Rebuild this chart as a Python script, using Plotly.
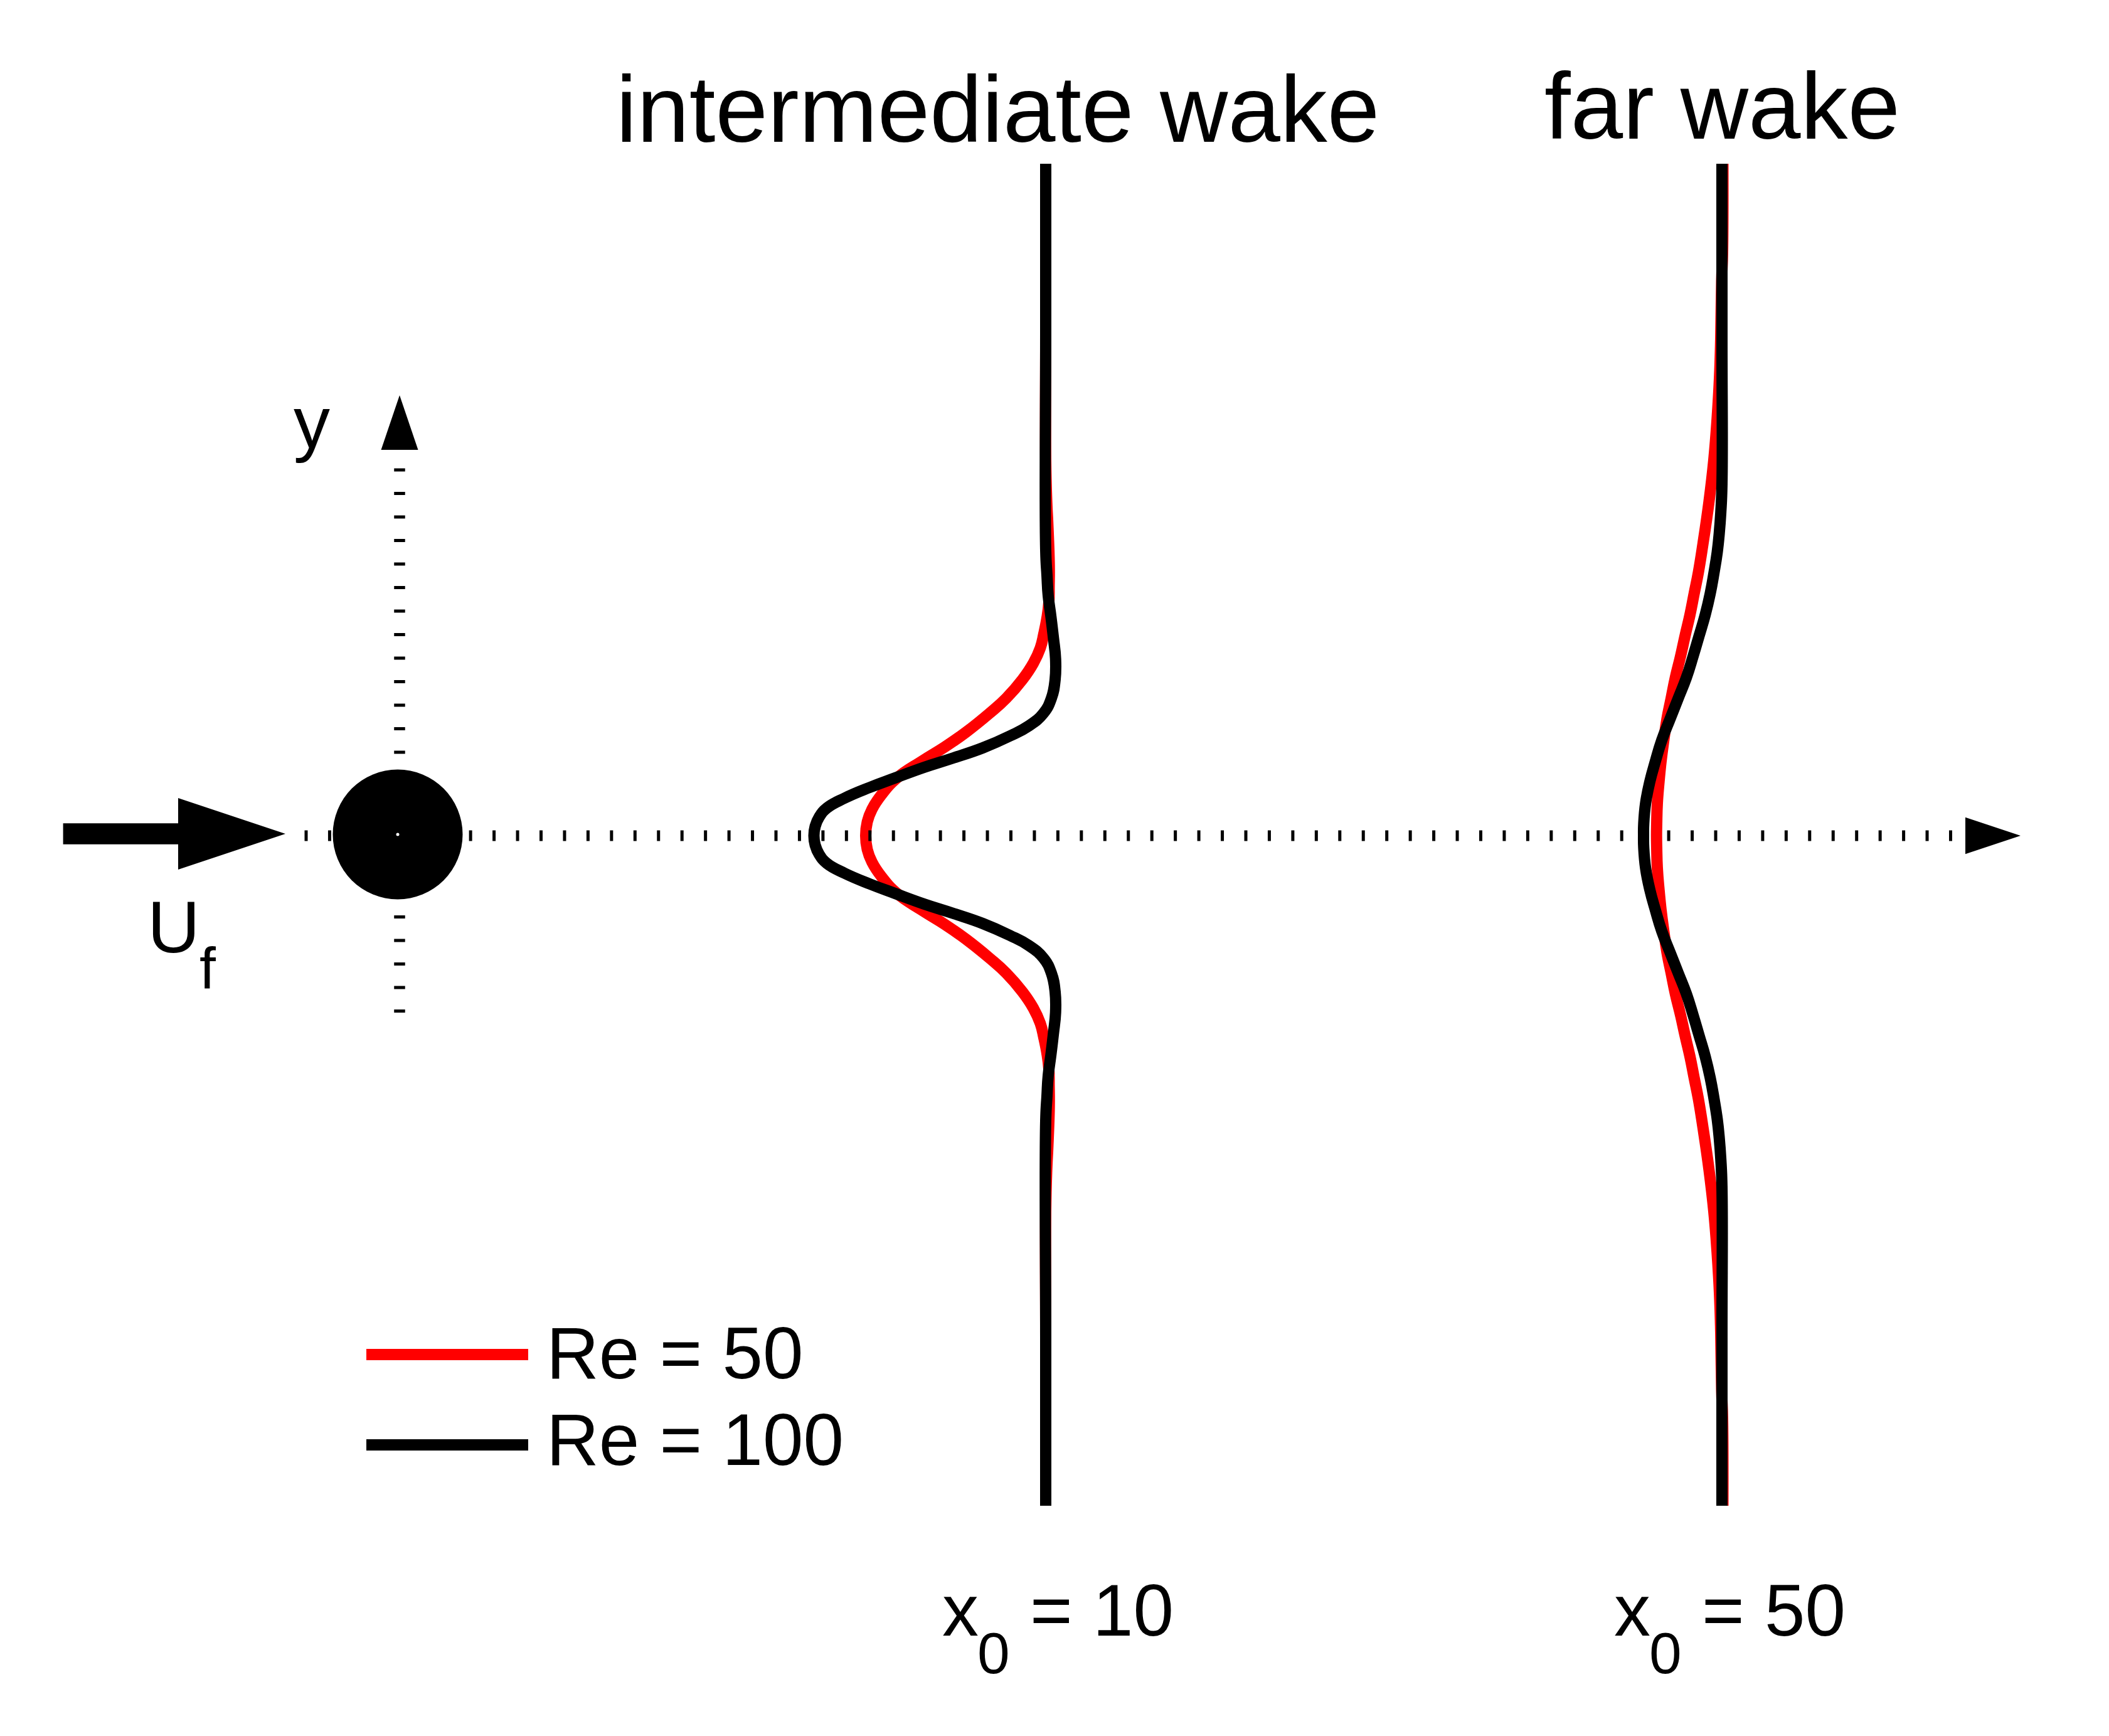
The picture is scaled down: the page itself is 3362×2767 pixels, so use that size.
import plotly.graph_objects as go

# Canvas units: 1 unit = 1 output pixel, y = 0 on the wake centreline (positive up).
W, H = 3362, 2767
Y_TOP = 1332
FONT = "Liberation Sans, Arial, Helvetica, sans-serif"

# ---- velocity profiles (y = cross-stream, x = profile position) ----
# intermediate wake, x0 = 10
int_re50_y = [1071, 800, 600, 531, 498, 431, 398, 372, 349, 322, 299, 275, 249, 219, 195, 165, 142, 119, 92, 65, 42, 22,
              0, -22, -42, -65, -92, -119, -142, -165, -195, -219, -249, -275, -299, -322, -349, -372, -398, -431, -498,
              -531, -600, -800, -1068]
int_re50_x = [1667, 1667, 1667, 1668.7, 1670.3, 1672.7, 1672.5, 1672, 1669.3, 1664, 1658.3, 1647.3, 1630, 1604, 1577.3,
              1540, 1507, 1470, 1430, 1405, 1390, 1382.5,
              1380, 1382.5, 1390, 1405, 1430, 1470, 1507, 1540, 1577.3, 1604, 1630, 1647.3, 1658.3, 1664, 1669.3,
              1672, 1672.5, 1672.7, 1670.3, 1668.7, 1667, 1667, 1667]

int_re100_y = [1071, 800, 455, 415, 382, 349, 315, 282, 249, 219, 195, 175, 159, 140, 124, 109, 92, 77, 60, 44, 30, 15,
               0, -15, -30, -44, -60, -77, -92, -109, -124, -140, -159, -175, -195, -219, -249, -282, -315, -349, -382,
               -415, -455, -800, -1068]
int_re100_x = [1667, 1667, 1667, 1669, 1671, 1675.3, 1679.3, 1682.7, 1682, 1676, 1663.3, 1640, 1610, 1566.7, 1520,
               1473.3, 1426.7, 1386.7, 1346.7, 1318, 1306, 1299.5,
               1297.5, 1299.5, 1306, 1318, 1346.7, 1386.7, 1426.7, 1473.3, 1520, 1566.7, 1610, 1640, 1663.3, 1676, 1682,
               1682.7, 1679.3, 1675.3, 1671, 1669, 1667, 1667, 1667]

# far wake, x0 = 50
far_re50_y = [1071, 930, 884, 792, 729, 665, 599, 532, 465, 419, 386, 352, 319, 286, 252, 219, 186, 152, 119, 86, 52, 19,
              0, -19, -52, -86, -119, -152, -186, -219, -252, -286, -319, -352, -386, -419, -465, -532, -599, -665,
              -729, -792, -884, -930, -1068]
far_re50_x = [2746.5, 2746, 2744.5, 2743, 2741, 2737.3, 2732, 2724.3, 2714.7, 2707.3, 2700.7, 2694, 2686.3, 2679,
              2670.7, 2664, 2657.3, 2652.3, 2648, 2644.7, 2642, 2641,
              2640.7, 2641, 2642, 2644.7, 2648, 2652.3, 2657.3, 2664, 2670.7, 2679, 2686.3, 2694, 2700.7, 2707.3,
              2714.7, 2724.3, 2732, 2737.3, 2741, 2743, 2744.5, 2746, 2746.5]

far_re100_y = [1071, 800, 560, 516, 482, 452, 419, 386, 352, 319, 286, 252, 219, 186, 152, 119, 86, 52, 19,
               0, -19, -52, -86, -119, -152, -186, -219, -252, -286, -319, -352, -386, -419, -452, -482, -516, -560,
               -800, -1068]
far_re100_x = [2745, 2745, 2745, 2743.2, 2740.7, 2737.5, 2732.3, 2726.3, 2718.3, 2708.7, 2699, 2688.3, 2675.3, 2662.3,
               2649, 2639, 2630, 2623.3, 2620.3,
               2620, 2620.3, 2623.3, 2630, 2639, 2649, 2662.3, 2675.3, 2688.3, 2699, 2708.7, 2718.3, 2726.3, 2732.3,
               2737.5, 2740.7, 2743.2, 2745, 2745, 2745]

re_labels = ["Re = 50", "Re = 100"]
re_colors = ["#ff0000", "#000000"]
wake_titles = ["intermediate wake", "far wake"]
station_values = ["10", "50"]
station_label_x = [1500, 2571]   # left edge of the "x0 = ..." labels

# ---- schematic geometry ----
title_x = [1590, 2745]
title_y = [1158, 1163]
CYL_X, CYL_Y, CYL_R = 634, 2, 103.5
AXIS_X = 637                      # dotted y axis
AXIS_Y0, AXIS_Y1 = -282, 586
HAXIS_X0, HAXIS_X1 = 485.5, 3114  # dotted x axis
DOTS = "5px,32.45px"
FLOW_Y = 3
LEGEND_X0, LEGEND_X1 = 584, 842
legend_line_y = [-827, -971]
legend_text_y = [-825, -963]

fig = go.Figure()

for xs, ys, color in [(int_re50_x, int_re50_y, re_colors[0]), (far_re50_x, far_re50_y, re_colors[0]),
                      (int_re100_x, int_re100_y, re_colors[1]), (far_re100_x, far_re100_y, re_colors[1])]:
    fig.add_trace(go.Scatter(x=xs, y=ys, mode="lines", hoverinfo="skip",
                             line=dict(color=color, width=18, shape="spline", smoothing=1.3)))

shapes = [
    # dotted axes
    dict(type="line", x0=HAXIS_X0, y0=0, x1=HAXIS_X1, y1=0, line=dict(color="black", width=17, dash=DOTS)),
    dict(type="line", x0=AXIS_X, y0=AXIS_Y0, x1=AXIS_X, y1=AXIS_Y1, line=dict(color="black", width=17.5, dash="5px,32.5px")),
    # arrowheads of the axes
    dict(type="path", path=f"M {AXIS_X - 29.5},615 L {AXIS_X + 29.5},615 L {AXIS_X},702 Z",
         fillcolor="black", line=dict(width=0)),
    dict(type="path", path="M 3133,29.3 L 3133,-29.3 L 3221,0 Z", fillcolor="black", line=dict(width=0)),
    # cylinder
    dict(type="circle", x0=CYL_X - CYL_R, x1=CYL_X + CYL_R, y0=CYL_Y - CYL_R, y1=CYL_Y + CYL_R,
         fillcolor="black", line=dict(width=0)),
    dict(type="circle", x0=CYL_X - 2.5, x1=CYL_X + 2.5, y0=CYL_Y - 2.5, y1=CYL_Y + 2.5,
         fillcolor="white", line=dict(width=0)),
    # free-stream arrow
    dict(type="line", x0=100.6, y0=FLOW_Y, x1=290, y1=FLOW_Y, line=dict(color="black", width=33.5)),
    dict(type="path", path=f"M 284,{FLOW_Y + 57} L 284,{FLOW_Y - 57} L 455,{FLOW_Y} Z",
         fillcolor="black", line=dict(width=0)),
]
for ly, color in zip(legend_line_y, re_colors):
    shapes.append(dict(type="line", x0=LEGEND_X0, y0=ly, x1=LEGEND_X1, y1=ly, line=dict(color=color, width=18)))


def label(text, x, y, size, xanchor="left"):
    return dict(text=text, x=x, y=y, xref="x", yref="y", showarrow=False, xanchor=xanchor, yanchor="middle",
                font=dict(family=FONT, size=size, color="black"))


annotations = []
for t, tx, ty in zip(wake_titles, title_x, title_y):
    annotations.append(label(t, tx, ty, 150, "center"))
for t, ty in zip(re_labels, legend_text_y):
    annotations.append(label(t, 869, ty, 116))
for val, lx in zip(station_values, station_label_x):
    annotations.append(label("x", lx, -1234.5, 116))
    annotations.append(label("0", lx + 56, -1302.5, 93))
    annotations.append(label("= " + val, lx + 140, -1234.5, 116))
annotations.append(label("U", 233, -146, 116))
annotations.append(label("f", 316, -211, 93))
annotations.append(label("y", 497, 658, 116, "center"))

fig.update_layout(
    width=W, height=H, autosize=False,
    margin=dict(l=0, r=0, t=0, b=0, pad=0),
    paper_bgcolor="white", plot_bgcolor="white",
    showlegend=False,
    xaxis=dict(range=[0, W], visible=False, fixedrange=True),
    yaxis=dict(range=[Y_TOP - H, Y_TOP], visible=False, fixedrange=True),
    shapes=shapes,
    annotations=annotations,
)

fig.write_html("out.html", config={"displayModeBar": False},
               post_script="document.body.style.margin='0';document.body.style.overflow='hidden';")
